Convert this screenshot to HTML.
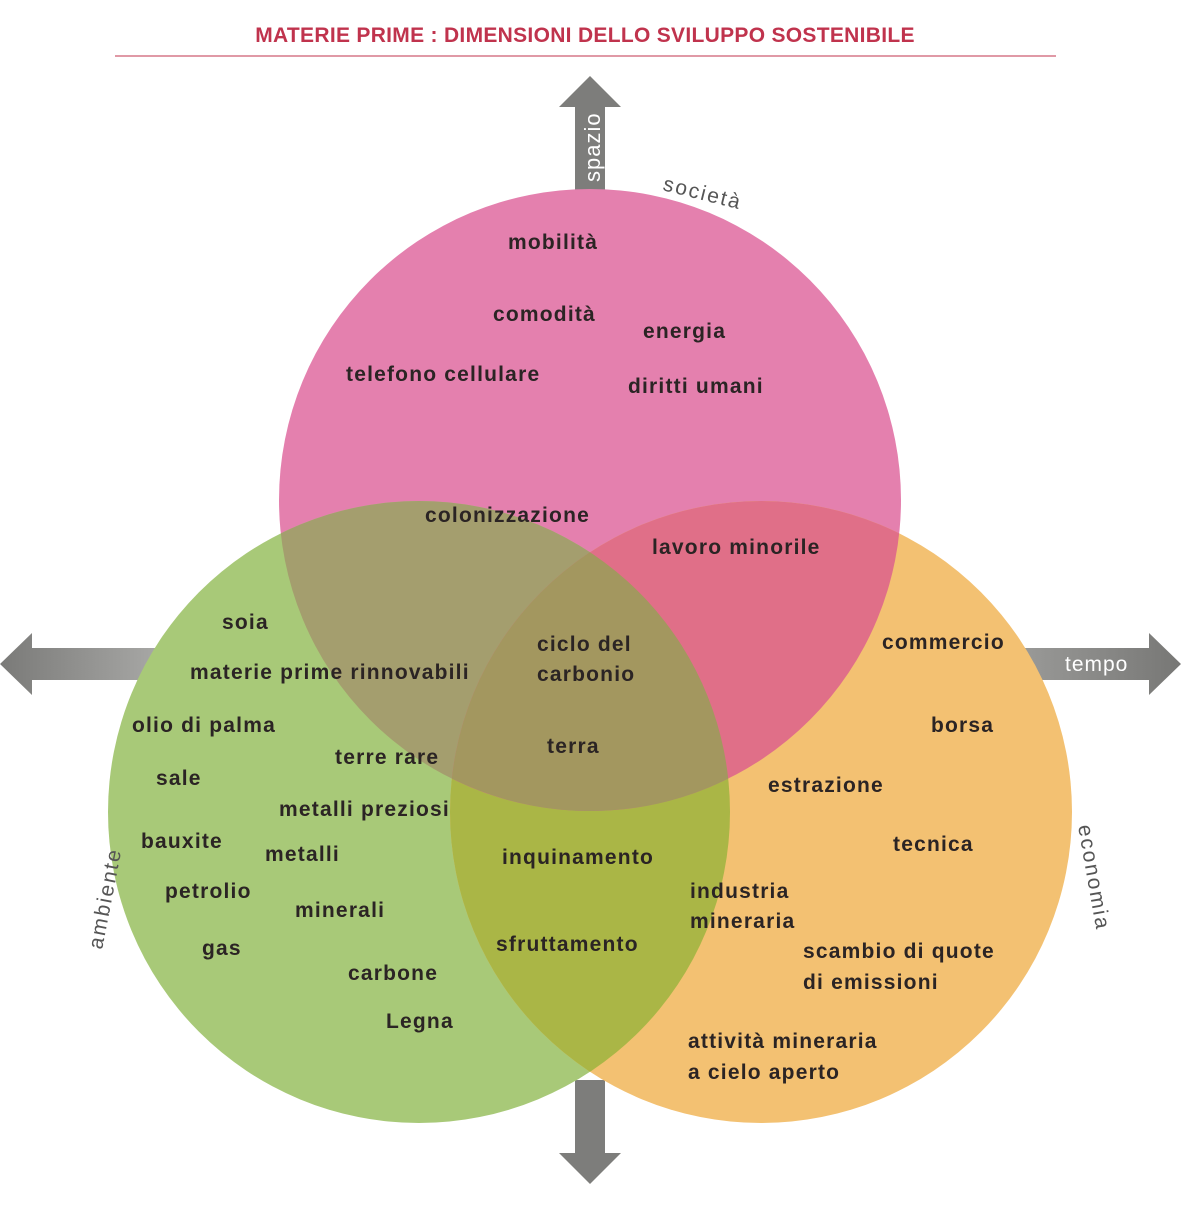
<!DOCTYPE html>
<html><head><meta charset="utf-8"><style>
body{margin:0;background:#fff}
svg text{font-family:"Liberation Sans",sans-serif}
</style></head><body>
<svg width="1197" height="1200" viewBox="0 0 1197 1200" xmlns="http://www.w3.org/2000/svg">
<defs>
<linearGradient id="gh" x1="0" x2="1" y1="0" y2="0"><stop offset="0" stop-color="#7a7a78"/><stop offset="1" stop-color="#a8a8a6"/></linearGradient>
<linearGradient id="gh2" x1="0" x2="1" y1="0" y2="0"><stop offset="0" stop-color="#9a9a98"/><stop offset="1" stop-color="#777775"/></linearGradient>
<clipPath id="cp"><circle cx="590" cy="500" r="311"/></clipPath>
<clipPath id="cg"><circle cx="419" cy="812" r="311"/></clipPath>
<clipPath id="cpg" clip-path="url(#cp)"><circle cx="419" cy="812" r="311"/></clipPath>
</defs>
<text x="585" y="42" text-anchor="middle" font-size="21" font-weight="bold" fill="#c0334d" letter-spacing="0.3">MATERIE PRIME : DIMENSIONI DELLO SVILUPPO SOSTENIBILE</text>
<line x1="115" y1="56" x2="1056" y2="56" stroke="#c0334d" stroke-width="1"/>
<polygon points="590,76 621,107 605,107 605,190 575,190 575,107 559,107" fill="#7d7d7b"/>
<polygon points="590,1184 621,1153 605,1153 605,1080 575,1080 575,1153 559,1153" fill="#7d7d7b"/>
<polygon points="0,664 32,633 32,648 160,648 160,680 32,680 32,695" fill="url(#gh)"/>
<polygon points="1181,664 1149,633 1149,648 1020,648 1020,680 1149,680 1149,695" fill="url(#gh2)"/>
<text transform="translate(600,182) rotate(-90)" font-size="22" fill="#fff" letter-spacing="1">spazio</text>
<text x="1065" y="671" font-size="21" fill="#fff" letter-spacing="1">tempo</text>
<circle cx="590" cy="500" r="311" fill="#e480ae"/>
<circle cx="419" cy="812" r="311" fill="#a8c978"/>
<circle cx="761" cy="812" r="311" fill="#f3c172"/>
<g clip-path="url(#cg)"><circle cx="761" cy="812" r="311" fill="#aab646"/></g>
<g clip-path="url(#cp)"><circle cx="419" cy="812" r="311" fill="#a49e6e"/><circle cx="761" cy="812" r="311" fill="#e06f88"/></g>
<g clip-path="url(#cpg)"><circle cx="761" cy="812" r="311" fill="#a3975f"/></g>
<text transform="translate(662,190) rotate(14)" font-size="21" fill="#555" letter-spacing="2">società</text>
<text transform="translate(102,950) rotate(-79)" font-size="21" fill="#555" letter-spacing="2">ambiente</text>
<text transform="translate(1078,826) rotate(80)" font-size="21" fill="#555" letter-spacing="2">economia</text>
<g font-size="21" fill="#2b2424" font-weight="bold" letter-spacing="1.2">
<text x="508" y="249">mobilità</text>
<text x="493" y="321">comodità</text>
<text x="643" y="338">energia</text>
<text x="346" y="381">telefono cellulare</text>
<text x="628" y="393">diritti umani</text>
<text x="425" y="522">colonizzazione</text>
<text x="652" y="554">lavoro minorile</text>
<text x="222" y="629">soia</text>
<text x="537" y="651">ciclo del</text>
<text x="537" y="681">carbonio</text>
<text x="190" y="679">materie prime rinnovabili</text>
<text x="882" y="649">commercio</text>
<text x="132" y="732">olio di palma</text>
<text x="931" y="732">borsa</text>
<text x="547" y="753">terra</text>
<text x="335" y="764">terre rare</text>
<text x="156" y="785">sale</text>
<text x="768" y="792">estrazione</text>
<text x="279" y="816">metalli preziosi</text>
<text x="141" y="848">bauxite</text>
<text x="893" y="851">tecnica</text>
<text x="265" y="861">metalli</text>
<text x="502" y="864">inquinamento</text>
<text x="165" y="898">petrolio</text>
<text x="690" y="898">industria</text>
<text x="690" y="928">mineraria</text>
<text x="295" y="917">minerali</text>
<text x="496" y="951">sfruttamento</text>
<text x="202" y="955">gas</text>
<text x="803" y="958">scambio di quote</text>
<text x="803" y="989">di emissioni</text>
<text x="348" y="980">carbone</text>
<text x="386" y="1028">Legna</text>
<text x="688" y="1048">attività mineraria</text>
<text x="688" y="1079">a cielo aperto</text>
</g>
</svg>
</body></html>
